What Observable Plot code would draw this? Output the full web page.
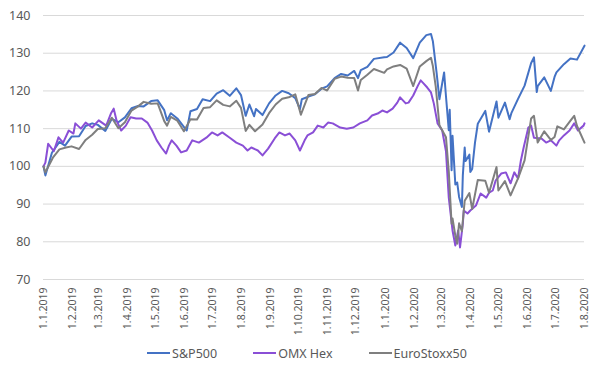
<!DOCTYPE html>
<html><head><meta charset="utf-8">
<script src="https://cdn.jsdelivr.net/npm/d3@7"></script>
<script src="https://cdn.jsdelivr.net/npm/@observablehq/plot@0.6"></script>
<style>
body{margin:0;background:#fff;font-family:"Noto Sans",sans-serif;}
#legend{display:flex;justify-content:center;align-items:center;height:26px;margin-top:0;padding-left:14px;}
.item{display:flex;align-items:center;margin:0 18px;font-size:12.5px;color:#595959;}
.sw{width:23px;height:2.5px;margin-right:2px;}
</style></head><body><div id="chart"></div><div id="legend"></div>
<script>
const seriesNames = ["S&P500", "OMX Hex", "EuroStoxx50"];
const seriesColors = ["#4472C4", "#8A4FD6", "#7F7F7F"];

const spDates = ["2019-01-01","2019-01-03","2019-01-10","2019-01-18","2019-01-24","2019-01-31","2019-02-08","2019-02-15","2019-02-22","2019-02-28","2019-03-08","2019-03-15","2019-03-22","2019-03-29","2019-04-05","2019-04-12","2019-04-18","2019-04-26","2019-05-03","2019-05-10","2019-05-13","2019-05-17","2019-05-24","2019-06-03","2019-06-07","2019-06-14","2019-06-20","2019-06-28","2019-07-05","2019-07-12","2019-07-19","2019-07-26","2019-07-31","2019-08-05","2019-08-09","2019-08-14","2019-08-16","2019-08-23","2019-08-30","2019-09-06","2019-09-13","2019-09-20","2019-09-27","2019-10-02","2019-10-04","2019-10-11","2019-10-18","2019-10-25","2019-10-31","2019-11-08","2019-11-15","2019-11-22","2019-11-29","2019-12-03","2019-12-06","2019-12-13","2019-12-20","2019-12-31","2020-01-03","2020-01-10","2020-01-17","2020-01-24","2020-01-31","2020-02-07","2020-02-14","2020-02-19","2020-02-21","2020-02-25","2020-02-28","2020-03-04","2020-03-06","2020-03-09","2020-03-10","2020-03-12","2020-03-13","2020-03-16","2020-03-18","2020-03-20","2020-03-23","2020-03-24","2020-03-26","2020-03-27","2020-03-31","2020-04-01","2020-04-03","2020-04-06","2020-04-09","2020-04-17","2020-04-21","2020-04-29","2020-05-01","2020-05-08","2020-05-13","2020-05-15","2020-05-22","2020-05-29","2020-06-05","2020-06-08","2020-06-11","2020-06-12","2020-06-19","2020-06-26","2020-06-30","2020-07-02","2020-07-10","2020-07-17","2020-07-24","2020-08-01"];
const spValues = [100,97.6,103.6,106.5,105.5,107.9,108.0,110.7,111.4,111.0,109.4,112.6,111.7,113.0,115.4,116.0,115.9,117.3,117.5,114.9,112.2,114.1,112.7,109.5,114.6,115.2,117.8,117.3,119.3,120.2,118.7,120.7,118.9,113.4,116.4,113.3,115.2,113.6,116.7,118.8,120.0,119.4,118.1,115.2,117.8,118.5,119.1,120.6,121.2,123.4,124.5,124.1,125.3,123.4,125.5,126.4,128.5,128.9,129.0,130.2,132.8,131.4,128.7,132.8,134.8,135.1,133.2,124.8,117.8,124.9,118.6,109.6,115.0,99.0,108.1,95.2,95.7,91.9,89.2,97.6,105.0,101.4,103.1,98.5,99.3,106.3,111.3,114.7,109.2,117.2,112.9,116.9,112.5,114.2,117.9,121.4,127.4,128.9,119.7,121.3,123.6,120.0,123.7,124.9,127.1,128.6,128.3,132.0];

const omxDates = ["2019-01-01","2019-01-03","2019-01-06","2019-01-12","2019-01-17","2019-01-22","2019-01-28","2019-02-02","2019-02-04","2019-02-10","2019-02-15","2019-02-22","2019-03-01","2019-03-09","2019-03-14","2019-03-17","2019-03-20","2019-03-25","2019-03-30","2019-04-04","2019-04-10","2019-04-16","2019-04-22","2019-04-27","2019-05-02","2019-05-07","2019-05-12","2019-05-15","2019-05-18","2019-05-23","2019-05-28","2019-06-03","2019-06-09","2019-06-16","2019-06-24","2019-06-30","2019-07-06","2019-07-11","2019-07-19","2019-07-26","2019-08-02","2019-08-07","2019-08-11","2019-08-18","2019-08-23","2019-08-29","2019-09-05","2019-09-10","2019-09-16","2019-09-21","2019-09-27","2019-10-02","2019-10-07","2019-10-10","2019-10-16","2019-10-21","2019-10-27","2019-11-01","2019-11-06","2019-11-14","2019-11-21","2019-11-28","2019-12-05","2019-12-13","2019-12-18","2019-12-24","2019-12-29","2020-01-03","2020-01-09","2020-01-14","2020-01-17","2020-01-23","2020-01-26","2020-01-31","2020-02-05","2020-02-08","2020-02-11","2020-02-15","2020-02-19","2020-02-22","2020-02-26","2020-03-02","2020-03-06","2020-03-09","2020-03-13","2020-03-16","2020-03-19","2020-03-21","2020-03-24","2020-03-25","2020-03-29","2020-04-01","2020-04-07","2020-04-12","2020-04-18","2020-04-21","2020-04-25","2020-04-28","2020-05-04","2020-05-09","2020-05-14","2020-05-18","2020-05-22","2020-05-25","2020-05-28","2020-06-02","2020-06-05","2020-06-08","2020-06-16","2020-06-21","2020-06-26","2020-07-02","2020-07-05","2020-07-10","2020-07-16","2020-07-21","2020-07-25","2020-07-31","2020-08-01"];
const omxValues = [100,101,106,104,107.7,106.3,109.5,108.7,111.4,110,111.6,110.3,112.2,110.8,114,115.3,112.2,109.5,110.8,113,112.7,112.7,111.6,109.5,106.9,105,103.4,105.5,106.9,105.5,103.7,104.2,106.9,106.3,107.6,109,108.2,109,107.6,106.3,105.5,104.2,105,104.2,102.9,104.7,107.4,109,108.2,108.7,106.9,104.2,106.9,108.2,109,110.8,110.3,111.6,111.4,110.3,110,110.3,111.4,112.2,113.5,114,114.8,114.3,115.3,116.9,118.3,116.7,116.9,118.8,121.4,122.8,122,120.9,119.6,116.7,111.4,109.5,104,91.7,83,79,83,78.5,84.8,88.3,87.5,88.3,89.6,92.8,91.7,93,93.6,96.2,98.1,98.4,95.5,98.4,96.8,101.5,105,110.3,110.8,107.6,107.4,106.3,106.9,105.5,106.9,108.2,109.5,111.4,109.5,110.8,111.4];

const esDates = ["2019-01-01","2019-01-03","2019-01-11","2019-01-18","2019-01-25","2019-01-31","2019-02-08","2019-02-15","2019-02-22","2019-02-28","2019-03-08","2019-03-15","2019-03-22","2019-03-29","2019-04-05","2019-04-12","2019-04-18","2019-04-26","2019-05-03","2019-05-10","2019-05-13","2019-05-17","2019-05-24","2019-05-31","2019-06-07","2019-06-14","2019-06-21","2019-06-28","2019-07-05","2019-07-12","2019-07-19","2019-07-26","2019-07-31","2019-08-05","2019-08-09","2019-08-15","2019-08-23","2019-08-30","2019-09-06","2019-09-13","2019-09-20","2019-09-27","2019-10-03","2019-10-11","2019-10-18","2019-10-25","2019-10-31","2019-11-08","2019-11-15","2019-11-22","2019-11-29","2019-12-03","2019-12-06","2019-12-13","2019-12-20","2019-12-31","2020-01-03","2020-01-10","2020-01-17","2020-01-24","2020-01-31","2020-02-07","2020-02-14","2020-02-19","2020-02-21","2020-02-24","2020-02-28","2020-03-06","2020-03-09","2020-03-12","2020-03-13","2020-03-16","2020-03-18","2020-03-20","2020-03-23","2020-03-26","2020-03-31","2020-04-03","2020-04-09","2020-04-17","2020-04-21","2020-04-29","2020-05-01","2020-05-08","2020-05-14","2020-05-22","2020-05-29","2020-06-05","2020-06-08","2020-06-12","2020-06-19","2020-06-26","2020-06-30","2020-07-03","2020-07-10","2020-07-17","2020-07-21","2020-07-24","2020-08-01"];
const esValues = [100,98.4,102.3,104.5,105.0,105.3,104.6,107.0,108.4,109.9,110.1,112.9,110.1,111.7,114.8,115.9,117.1,116.6,116.7,112.0,110.8,113.1,112.1,109.3,112.5,112.4,115.5,115.7,117.5,116.3,115.9,117.4,115.5,109.4,111.0,109.3,111.1,114.1,116.4,117.9,118.3,119.1,113.7,118.9,119.2,120.8,120.1,123.2,123.8,123.5,123.4,120.1,122.9,124.3,125.8,124.8,125.7,126.5,126.9,125.9,121.3,126.5,127.9,128.8,126.6,121.3,110.9,107.7,98.6,84.8,86.2,81.6,79.5,84.9,82.8,90.9,92.9,88.7,96.4,96.2,93.0,99.8,93.6,96.1,92.3,96.8,101.6,112.7,113.4,106.3,109.3,107.0,107.8,110.6,109.8,112.1,113.4,110.7,106.3];

const yTicks = [70, 80, 90, 100, 110, 120, 130, 140];
const xTickDates = ["2019-01-01","2019-02-01","2019-03-01","2019-04-01","2019-05-01","2019-06-01","2019-07-01","2019-08-01","2019-09-01","2019-10-01","2019-11-01","2019-12-01","2020-01-01","2020-02-01","2020-03-01","2020-04-01","2020-05-01","2020-06-01","2020-07-01","2020-08-01"];

const parse = s => new Date(s + "T00:00:00Z");
const allDates = [spDates, omxDates, esDates];
const allValues = [spValues, omxValues, esValues];
const rows = [];
seriesNames.forEach((name, i) => {
  allDates[i].forEach((d, j) => rows.push({series: name, date: parse(d), value: allValues[i][j]}));
});
const fmt = d => `${d.getUTCDate()}.${d.getUTCMonth() + 1}.${d.getUTCFullYear()}`;

const chart = Plot.plot({
  width: 600, height: 340,
  marginTop: 15, marginBottom: 61, marginLeft: 43, marginRight: 16,
  style: {fontFamily: "'Noto Sans', sans-serif", color: "#595959", background: "white"},
  x: {type: "utc", domain: [parse("2019-01-01"), parse("2020-08-01")]},
  y: {domain: [70, 140]},
  color: {domain: seriesNames, range: seriesColors},
  marks: [
    Plot.gridY(yTicks, {stroke: "#d9d9d9", strokeOpacity: 1, strokeWidth: 1}),
    Plot.axisY({ticks: yTicks, tickSize: 0, tickPadding: 13, fontSize: 12.5, label: null}),
    Plot.axisX({ticks: xTickDates.map(parse), tickFormat: fmt, tickRotate: -90, tickSize: 0, tickPadding: 8, fontSize: 10.5, label: null}),
    Plot.line(rows, {x: "date", y: "value", z: "series", stroke: "series", strokeWidth: 2, strokeLinejoin: "round"})
  ]
});
document.getElementById("chart").appendChild(chart);

const legend = document.getElementById("legend");
seriesNames.forEach((n, i) => {
  const it = document.createElement("div");
  it.className = "item";
  it.innerHTML = `<span class="sw" style="background:${seriesColors[i]}"></span><span>${n}</span>`;
  legend.appendChild(it);
});
</script>
</body></html>
